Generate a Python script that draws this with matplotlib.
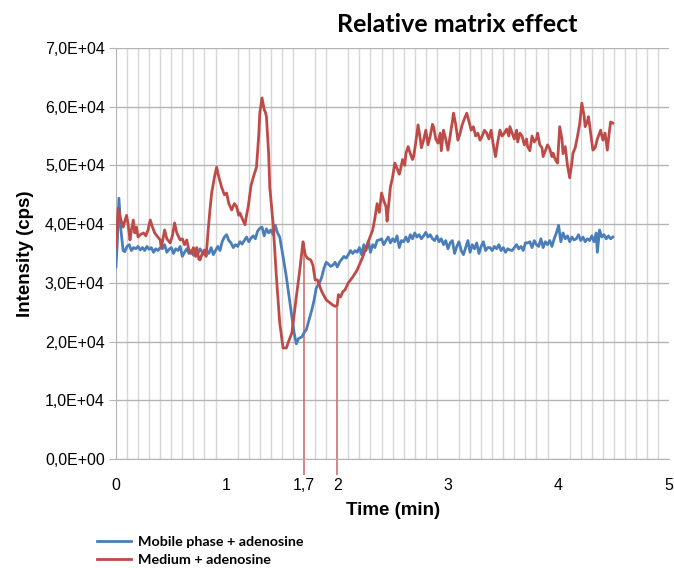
import numpy as np
import matplotlib
matplotlib.use("Agg")
from matplotlib import pyplot as plt
from matplotlib.ticker import FuncFormatter

# time (min) / intensity (x1e4 cps)
blue_t = [0.00, 0.01, 0.027, 0.045, 0.065, 0.08, 0.10, 0.12, 0.14, 0.16, 0.18, 0.20, 0.22, 0.24,
          0.26, 0.28, 0.30, 0.32, 0.34, 0.36, 0.38, 0.40, 0.42, 0.44, 0.46, 0.48, 0.50, 0.52,
          0.54, 0.56, 0.58, 0.60, 0.62, 0.64, 0.66, 0.68, 0.70, 0.72, 0.74, 0.76, 0.78, 0.80,
          0.82, 0.84, 0.86, 0.88, 0.90, 0.92, 0.94, 0.96, 0.98, 1.00, 1.02, 1.04, 1.06, 1.08,
          1.10, 1.12, 1.14, 1.16, 1.18, 1.20, 1.22, 1.24, 1.26, 1.28, 1.30, 1.32, 1.34, 1.36,
          1.38, 1.40, 1.42, 1.44, 1.46, 1.48, 1.51, 1.54, 1.57, 1.59, 1.61, 1.63, 1.65, 1.68,
          1.70, 1.72, 1.75, 1.77, 1.79, 1.81, 1.84, 1.86, 1.88, 1.90, 1.92, 1.94, 1.96, 1.98,
          2.00, 2.02, 2.04, 2.06, 2.08, 2.10, 2.12, 2.14, 2.16, 2.18, 2.20, 2.22, 2.24, 2.26,
          2.28, 2.30, 2.32, 2.34, 2.36, 2.38, 2.40, 2.42, 2.44, 2.46, 2.48, 2.50, 2.52, 2.54,
          2.56, 2.58, 2.60, 2.62, 2.64, 2.66, 2.68, 2.70, 2.72, 2.74, 2.76, 2.78, 2.80, 2.82,
          2.84, 2.86, 2.88, 2.90, 2.92, 2.94, 2.96, 2.98, 3.00, 3.02, 3.04, 3.06, 3.08, 3.10,
          3.12, 3.14, 3.16, 3.18, 3.20, 3.22, 3.24, 3.26, 3.28, 3.30, 3.32, 3.34, 3.36, 3.38,
          3.40, 3.42, 3.44, 3.46, 3.48, 3.50, 3.52, 3.54, 3.56, 3.58, 3.60, 3.62, 3.64, 3.66,
          3.68, 3.70, 3.72, 3.74, 3.76, 3.78, 3.80, 3.82, 3.84, 3.86, 3.88, 3.90, 3.92, 3.94,
          3.96, 3.98, 4.00, 4.02, 4.04, 4.06, 4.08, 4.10, 4.12, 4.14, 4.16, 4.18, 4.20, 4.22,
          4.24, 4.26, 4.28, 4.30, 4.32, 4.34, 4.35, 4.37, 4.39, 4.41, 4.43, 4.45, 4.47, 4.49]
blue_y = [3.27, 3.60, 4.44, 3.90, 3.55, 3.53, 3.62, 3.65, 3.55, 3.60, 3.58, 3.62, 3.56, 3.60,
          3.55, 3.62, 3.57, 3.60, 3.52, 3.58, 3.55, 3.60, 3.58, 3.65, 3.52, 3.57, 3.60, 3.50,
          3.58, 3.55, 3.62, 3.45, 3.52, 3.58, 3.50, 3.55, 3.47, 3.55, 3.50, 3.58, 3.52, 3.48,
          3.55, 3.50, 3.60, 3.48, 3.55, 3.62, 3.55, 3.70, 3.78, 3.82, 3.72, 3.68, 3.60, 3.65,
          3.62, 3.70, 3.66, 3.72, 3.78, 3.70, 3.76, 3.80, 3.75, 3.88, 3.93, 3.95, 3.80, 3.92,
          3.85, 3.90, 3.82, 3.98, 3.85, 3.78, 3.45, 3.10, 2.70, 2.42, 2.15, 1.96, 2.05, 2.08,
          2.15, 2.20, 2.40, 2.54, 2.70, 2.91, 3.00, 3.10, 3.25, 3.35, 3.32, 3.28, 3.30, 3.35,
          3.27, 3.35, 3.40, 3.45, 3.42, 3.48, 3.55, 3.50, 3.55, 3.52, 3.60, 3.48, 3.65, 3.55,
          3.70, 3.52, 3.65, 3.60, 3.72, 3.73, 3.75, 3.65, 3.72, 3.78, 3.68, 3.75, 3.70, 3.80,
          3.60, 3.72, 3.70, 3.78, 3.70, 3.82, 3.75, 3.85, 3.78, 3.82, 3.75, 3.80, 3.86, 3.78,
          3.82, 3.75, 3.72, 3.80, 3.70, 3.75, 3.65, 3.72, 3.58, 3.68, 3.72, 3.50, 3.62, 3.70,
          3.55, 3.48, 3.60, 3.72, 3.52, 3.65, 3.58, 3.68, 3.50, 3.62, 3.70, 3.55, 3.60, 3.60,
          3.55, 3.62, 3.58, 3.65, 3.55, 3.60, 3.52, 3.58, 3.56, 3.55, 3.60, 3.65, 3.58, 3.62,
          3.55, 3.68, 3.68, 3.70, 3.60, 3.72, 3.65, 3.62, 3.75, 3.60, 3.70, 3.65, 3.72, 3.62,
          3.75, 3.85, 3.98, 3.70, 3.85, 3.75, 3.80, 3.70, 3.78, 3.73, 3.75, 3.82, 3.72, 3.78,
          3.70, 3.75, 3.72, 3.80, 3.70, 3.85, 3.52, 3.90, 3.78, 3.82, 3.75, 3.80, 3.75, 3.78]

red_t = [0.00, 0.006, 0.02, 0.04, 0.066, 0.08, 0.096, 0.11, 0.127, 0.14, 0.157, 0.17, 0.185,
         0.20, 0.22, 0.25, 0.27, 0.29, 0.31, 0.33, 0.35, 0.37, 0.40, 0.41, 0.43, 0.44, 0.46,
         0.49, 0.51, 0.53, 0.55, 0.58, 0.60, 0.62, 0.64, 0.66, 0.68, 0.70, 0.72, 0.73, 0.75,
         0.76, 0.78, 0.80, 0.815, 0.835, 0.85, 0.865, 0.89, 0.91, 0.93, 0.955, 0.98, 1.00,
         1.02, 1.046, 1.07, 1.09, 1.11, 1.12, 1.14, 1.166, 1.18, 1.196, 1.22, 1.24, 1.27,
         1.29, 1.30, 1.32, 1.34, 1.35, 1.36, 1.38, 1.39, 1.42, 1.45, 1.48, 1.51, 1.54, 1.56,
         1.59, 1.63, 1.66, 1.69, 1.71, 1.73, 1.76, 1.78, 1.80, 1.82, 1.84, 1.86, 1.88, 1.90,
         1.92, 1.94, 1.96, 1.98, 2.00, 2.01, 2.03, 2.05, 2.07, 2.10, 2.14, 2.18, 2.21, 2.23,
         2.26, 2.29, 2.32, 2.34, 2.36, 2.38, 2.40, 2.42, 2.44, 2.45, 2.46, 2.48, 2.50, 2.52,
         2.54, 2.56, 2.57, 2.59, 2.61, 2.62, 2.64, 2.66, 2.68, 2.69, 2.71, 2.73, 2.75, 2.76,
         2.78, 2.80, 2.82, 2.84, 2.86, 2.87, 2.89, 2.91, 2.93, 2.94, 2.96, 2.98, 3.00, 3.02,
         3.04, 3.05, 3.07, 3.09, 3.11, 3.13, 3.15, 3.17, 3.19, 3.21, 3.23, 3.25, 3.27, 3.29,
         3.31, 3.33, 3.35, 3.37, 3.39, 3.41, 3.43, 3.45, 3.47, 3.49, 3.51, 3.53, 3.55, 3.56,
         3.58, 3.60, 3.62, 3.63, 3.65, 3.67, 3.69, 3.71, 3.72, 3.74, 3.76, 3.78, 3.80, 3.81,
         3.83, 3.85, 3.86, 3.88, 3.90, 3.92, 3.94, 3.95, 3.97, 3.99, 4.01, 4.03, 4.04, 4.06,
         4.08, 4.10, 4.12, 4.13, 4.15, 4.17, 4.19, 4.21, 4.23, 4.24, 4.26, 4.27, 4.29, 4.31,
         4.33, 4.35, 4.37, 4.38, 4.40, 4.42, 4.44, 4.46, 4.47, 4.49]
red_y = [3.60, 3.70, 4.27, 4.10, 3.95, 4.05, 4.15, 4.00, 3.73, 3.90, 4.07, 3.85, 3.95,
         3.78, 3.82, 3.85, 3.80, 3.90, 4.07, 3.95, 3.85, 3.80, 3.73, 3.60, 3.80, 3.90, 3.75,
         3.68, 3.80, 4.02, 3.85, 3.73, 3.75, 3.65, 3.73, 3.55, 3.50, 3.60, 3.45, 3.60, 3.40,
         3.39, 3.50, 3.56, 3.45, 3.93, 4.25, 4.53, 4.80, 4.97, 4.80, 4.63, 4.50, 4.53,
         4.35, 4.24, 4.35, 4.30, 4.15, 4.19, 4.10, 3.99, 4.15, 4.30, 4.65, 4.79, 4.97,
         5.50, 5.89, 6.15, 5.95, 5.91, 5.83, 5.20, 4.63, 4.02, 3.10, 2.32, 1.89, 1.89, 2.00,
         2.15, 2.76, 3.20, 3.70, 3.48, 3.42, 3.39, 3.30, 3.05, 3.05, 2.95, 2.85, 2.78, 2.71,
         2.68, 2.65, 2.62, 2.60, 2.62, 2.80, 2.76, 2.85, 2.88, 3.00, 3.10, 3.22, 3.35, 3.44,
         3.60, 3.75, 3.90, 4.10, 4.35, 4.20, 4.53, 4.40, 4.30, 4.05, 4.24, 4.63, 4.80, 5.04,
         4.95, 4.85, 4.92, 5.10, 5.00, 5.20, 5.32, 5.20, 5.10, 5.15, 5.40, 5.69, 5.45, 5.30,
         5.43, 5.60, 5.35, 5.50, 5.70, 5.66, 5.45, 5.38, 5.55, 5.25, 5.60, 5.45, 5.26, 5.50,
         5.75, 5.89, 5.70, 5.43, 5.55, 5.70, 5.80, 5.89, 5.75, 5.60, 5.66, 5.50, 5.55, 5.43,
         5.50, 5.60, 5.55, 5.45, 5.60, 5.35, 5.15, 5.40, 5.60, 5.50, 5.55, 5.62, 5.50, 5.66,
         5.55, 5.45, 5.60, 5.40, 5.55, 5.50, 5.35, 5.45, 5.32, 5.25, 5.50, 5.40, 5.45, 5.55,
         5.35, 5.30, 5.15, 5.25, 5.35, 5.28, 5.15, 5.21, 5.10, 5.04, 5.66, 5.45, 5.20, 5.32,
         5.00, 4.79, 5.05, 5.21, 5.30, 5.49, 5.70, 6.06, 5.85, 5.66, 5.75, 5.83, 5.55, 5.26,
         5.30, 5.45, 5.55, 5.60, 5.43, 5.55, 5.26, 5.60, 5.74, 5.72]

marker_t = [1.7, 2.0]
marker_top = [3.70, 2.62]

x_ticks = [0, 1, 1.7, 2, 3, 4, 5]
x_tick_labels = ["0", "1", "1,7", "2", "3", "4", "5"]

BLUE = "#4a7ebb"
RED = "#be4b48"
SCALE = 1e4

plt.rcParams["font.family"] = ["Liberation Sans", "DejaVu Sans"]

fig = plt.figure(figsize=(6.74, 5.68), dpi=100)
ax = fig.add_axes([0.172, 0.192, 0.821, 0.7235])

ax.plot(np.array(blue_t), np.array(blue_y) * SCALE, color=BLUE, lw=2.0,
        label="Mobile phase + adenosine", zorder=3)
ax.plot(np.array(red_t), np.array(red_y) * SCALE, color=RED, lw=2.0,
        label="Medium + adenosine", zorder=3)
ax.vlines(marker_t, -0.28 * SCALE, np.array(marker_top) * SCALE, color="#d0706d",
          lw=1.2, clip_on=False, zorder=2)

ax.set_xlim(0, 5)
ax.set_ylim(0, 7e4)
ax.set_xticks(x_ticks)
ax.set_xticklabels(x_tick_labels)
ax.set_xticks(np.arange(0, 5.01, 0.1), minor=True)
ax.set_yticks(np.arange(0, 7.01e4, 1e4))
ax.yaxis.set_major_formatter(FuncFormatter(lambda v, p: f"{v:.1E}".replace(".", ",")))

ax.grid(which="minor", axis="x", color="#d6d6d6", lw=1.0)
ax.grid(which="major", axis="y", color="#b4b4b4", lw=1.0)
ax.set_axisbelow(True)
ax.tick_params(axis="x", which="both", length=0, pad=14, labelsize=11.5)
ax.tick_params(axis="y", length=5, color="#b4b4b4", pad=3, labelsize=11.5)
for side in ["top", "right"]:
    ax.spines[side].set_visible(False)
for side in ["left", "bottom"]:
    ax.spines[side].set_color("#b4b4b4")

ax.set_xlabel("Time (min)", fontsize=13.5, fontweight="bold", labelpad=6)
ax.set_ylabel("Intensity (cps)", fontsize=13.5, fontweight="bold", labelpad=8)

fig.text(0.678, 0.957, "Relative matrix effect", fontsize=18, fontweight="bold",
         ha="center", va="center", family=["Lato", "DejaVu Sans"])

ax.legend(loc="upper left", bbox_to_anchor=(0.135, 0.067), bbox_transform=fig.transFigure,
          frameon=False, prop={"family": ["Lato", "DejaVu Sans"], "weight": "bold", "size": 10.3},
          handlelength=2.4, handletextpad=0.5, labelspacing=0.45, borderaxespad=0)

fig.savefig("out.png", dpi=100)
